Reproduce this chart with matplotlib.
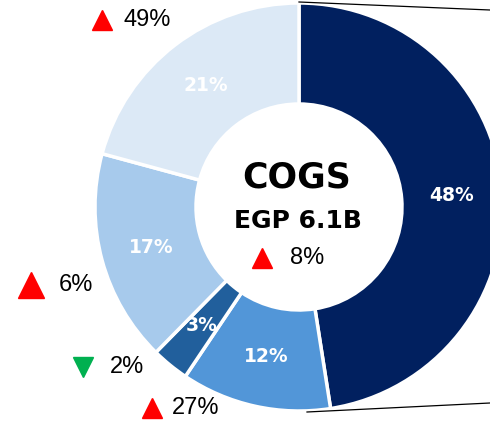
import matplotlib.pyplot as plt

plt.rcParams['font.family'] = ['Liberation Sans', 'DejaVu Sans']

# segment shares (clockwise from top)
shares = [48, 12, 3, 17, 21]
share_labels = ["48%", "12%", "3%", "17%", "21%"]
colors = ["#01205f", "#5296d8", "#215f9c", "#a7caec", "#dce9f6"]

# year-on-year change for the outer labels
changes = ["49%", "6%", "2%", "27%"]
directions = ["up", "up", "down", "up"]

title = "COGS"
total = "EGP 6.1B"
total_change = "8%"

W, H = 490, 422
fig = plt.figure(figsize=(W / 100, H / 100), dpi=100)
ax = fig.add_axes([0, 0, 1, 1])

cx, cy = 299, H - 207
r_out, r_in = 204, 103
width = r_out - r_in

wedges, texts = ax.pie(
    shares, colors=colors, startangle=90, counterclock=False,
    center=(cx, cy), radius=r_out, labels=share_labels,
    labeldistance=(r_out - width / 2) / r_out,
    wedgeprops=dict(width=width, edgecolor='white', linewidth=2.5),
    textprops=dict(color='white', fontsize=13.5, fontweight='bold', family='DejaVu Sans',
                   ha='center', va='center'),
    frame=True,
)
ax.set_xlim(0, W)
ax.set_ylim(0, H)
ax.set_aspect('equal')
ax.axis('off')

# connector lines to the right
ax.plot([cx, W], [cy + r_out + 1, H - 10], color='black', lw=0.9)
ax.plot([cx + 8, W], [cy - r_out - 1, H - 403], color='black', lw=0.9)

# centre text
ax.text(cx - 2, H - 177, title, fontsize=25, fontweight='bold', family='DejaVu Sans',
        ha='center', va='center')
ax.text(cx - 1, H - 221, total, fontsize=18, fontweight='bold', family='DejaVu Sans',
        ha='center', va='center')
ax.plot(262, H - 258, marker='^', ms=15, color='#ff0000', ls='none')
ax.text(290, H - 258, total_change, fontsize=17, ha='left', va='center')

# outer change labels: triangle x, text x, y, marker size (pixels)
spots = [(102, 123, 20, 15), (31, 59, 285, 19), (83, 110, 367, 15), (152, 172, 408, 15)]
for (tx, lx, y, ms), txt, d in zip(spots, changes, directions):
    if d == "up":
        ax.plot(tx, H - y, marker='^', ms=ms, color='#ff0000', ls='none')
    else:
        ax.plot(tx, H - y, marker='v', ms=ms, color='#00b050', ls='none')
    ax.text(lx, H - y, txt, fontsize=17, ha='left', va='center')

fig.savefig("out.png", dpi=100)
